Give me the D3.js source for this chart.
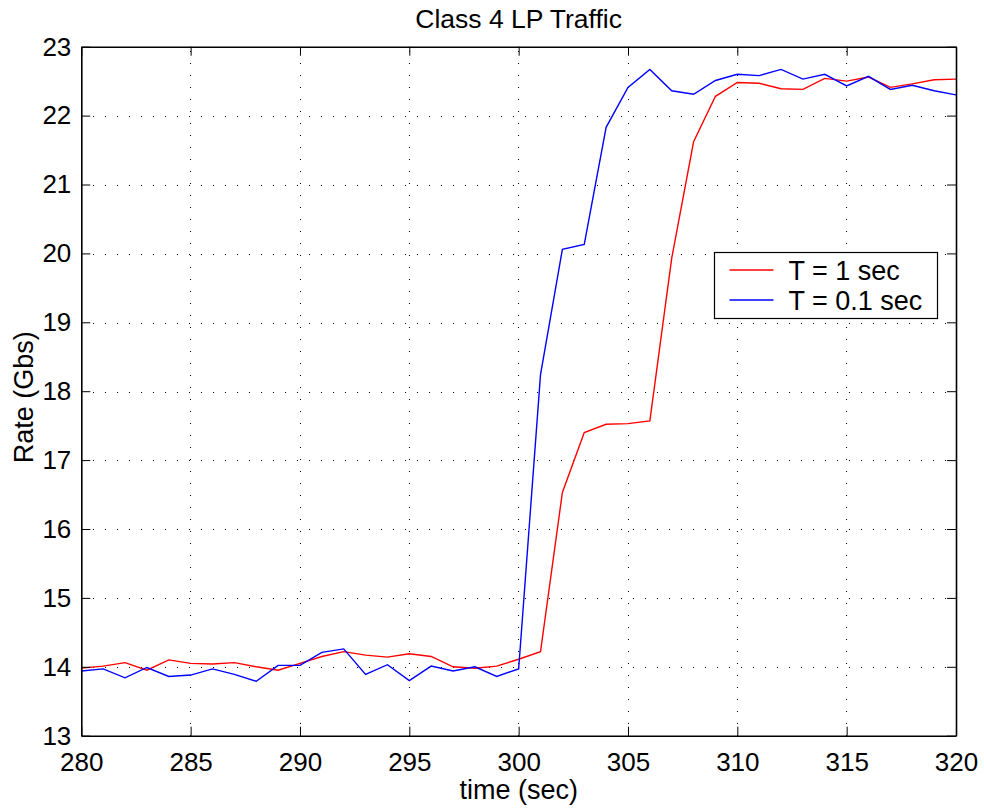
<!DOCTYPE html>
<html>
<head>
<meta charset="utf-8">
<script src="https://cdn.jsdelivr.net/npm/d3@7"></script>
<style>
  html, body { margin: 0; padding: 0; background: #fff; }
  svg { display: block; font-family: "Liberation Sans", Arial, Helvetica, sans-serif; }
</style>
</head>
<body>
<svg id="chart" width="984" height="811"></svg>
<script>
// Sample times (sec)
const times = [280, 281, 282, 283, 284, 285, 286, 287, 288, 289, 290,
               291, 292, 293, 294, 295, 296, 297, 298, 299, 300,
               301, 302, 303, 304, 305, 306, 307, 308, 309, 310,
               311, 312, 313, 314, 315, 316, 317, 318, 319, 320];

// Measured rate (Gbs) averaged over T = 1 sec
const rateT1 = [13.98, 14.01, 14.06, 13.95, 14.10, 14.05, 14.04, 14.06, 14.00, 13.95, 14.05,
                14.15, 14.22, 14.17, 14.14, 14.19, 14.15, 14.00, 13.98, 14.01, 14.11,
                14.22, 16.53, 17.40, 17.52, 17.53, 17.57, 19.93, 21.62, 22.28, 22.48,
                22.47, 22.39, 22.38, 22.54, 22.50, 22.56, 22.41, 22.46, 22.52, 22.53];

// Measured rate (Gbs) averaged over T = 0.1 sec
const rateT01 = [13.94, 13.97, 13.84, 13.99, 13.86, 13.88, 13.97, 13.89, 13.79, 14.02, 14.02,
                 14.21, 14.26, 13.89, 14.03, 13.80, 14.01, 13.94, 14.00, 13.86, 13.97,
                 18.24, 20.06, 20.13, 21.83, 22.41, 22.67, 22.36, 22.31, 22.51, 22.60,
                 22.58, 22.67, 22.53, 22.60, 22.43, 22.57, 22.38, 22.44, 22.36, 22.30];

const xTicks = [280, 285, 290, 295, 300, 305, 310, 315, 320];
const yTicks = [13, 14, 15, 16, 17, 18, 19, 20, 21, 22, 23];

const seriesNames = ["T = 1 sec", "T = 0.1 sec"];
const seriesColors = ["#ff0000", "#0000ff"];

const svg = d3.select("#chart");
const margin = { left: 81.3, top: 46.7, right: 984 - 956, bottom: 811 - 735.7 };
const W = 984 - margin.left - margin.right;
const H = 811 - margin.top - margin.bottom;

const x = d3.scaleLinear().domain([280, 320]).range([0, W]);
const y = d3.scaleLinear().domain([13, 23]).range([H, 0]);

const g = svg.append("g").attr("transform", `translate(${margin.left},${margin.top})`);

// Dotted grid
const grid = g.append("g").attr("stroke", "#000").attr("stroke-width", 1)
  .attr("stroke-dasharray", "1,11").attr("shape-rendering", "crispEdges");
grid.selectAll("line.vx").data(xTicks.slice(1, -1)).join("line")
  .attr("x1", d => Math.round(x(d)) + 0.5).attr("x2", d => Math.round(x(d)) + 0.5)
  .attr("y1", H).attr("y2", 0);
grid.selectAll("line.hy").data(yTicks.slice(1, -1)).join("line")
  .attr("x1", 0).attr("x2", W)
  .attr("y1", d => Math.round(y(d)) + 0.5).attr("y2", d => Math.round(y(d)) + 0.5);

// Data lines
g.append("clipPath").attr("id", "plotclip").append("rect")
  .attr("x", 0).attr("y", 0).attr("width", W).attr("height", H);

const line = d3.line().x((d, i) => x(times[i])).y(d => y(d));
[rateT1, rateT01].forEach((vals, k) => {
  g.append("path").datum(vals)
    .attr("clip-path", "url(#plotclip)")
    .attr("fill", "none")
    .attr("stroke", seriesColors[k])
    .attr("stroke-width", 1.4)
    .attr("stroke-linejoin", "miter")
    .attr("d", line);
});

// Axes with inward ticks on all four sides
const tickLen = 9;
const fontSize = 26;
const axB = g.append("g").attr("transform", `translate(0,${H})`)
  .call(d3.axisBottom(x).tickValues(xTicks).tickSizeInner(-tickLen).tickSizeOuter(0).tickPadding(17));
const axL = g.append("g")
  .call(d3.axisLeft(y).tickValues(yTicks).tickSizeInner(-tickLen).tickSizeOuter(0).tickPadding(10));
const axT = g.append("g")
  .call(d3.axisTop(x).tickValues(xTicks).tickSizeInner(-tickLen).tickSizeOuter(0).tickFormat(""));
const axR = g.append("g").attr("transform", `translate(${W},0)`)
  .call(d3.axisRight(y).tickValues(yTicks).tickSizeInner(-tickLen).tickSizeOuter(0).tickFormat(""));

[axB, axL, axT, axR].forEach(a => {
  a.selectAll(".domain").attr("stroke", "#000").attr("stroke-width", 1.6);
  a.selectAll(".tick line").attr("stroke", "#000").attr("stroke-width", 1);
  a.selectAll("text").attr("font-size", fontSize).attr("fill", "#000")
    .attr("font-family", "Liberation Sans, Arial, Helvetica, sans-serif");
});

// Title and axis labels
svg.append("text").attr("x", margin.left + W / 2).attr("y", 28)
  .attr("text-anchor", "middle").attr("font-size", 26.5).text("Class 4 LP Traffic");
svg.append("text").attr("x", margin.left + W / 2).attr("y", 799)
  .attr("text-anchor", "middle").attr("font-size", 27).text("time (sec)");
svg.append("text")
  .attr("transform", `translate(33,${margin.top + H / 2 + 6}) rotate(-90)`)
  .attr("text-anchor", "middle").attr("font-size", 27).text("Rate (Gbs)");

// Legend
const lg = svg.append("g").attr("transform", "translate(714.5,252.5)");
lg.append("rect").attr("width", 223).attr("height", 66)
  .attr("fill", "#fff").attr("stroke", "#000").attr("stroke-width", 1.2);
seriesNames.forEach((name, k) => {
  const yy = 17.5 + k * 30;
  lg.append("line").attr("x1", 15).attr("x2", 59).attr("y1", yy).attr("y2", yy)
    .attr("stroke", seriesColors[k]).attr("stroke-width", 1.4);
  lg.append("text").attr("x", 74).attr("y", yy + 9.5)
    .attr("font-size", 27).text(name);
});
</script>
</body>
</html>
